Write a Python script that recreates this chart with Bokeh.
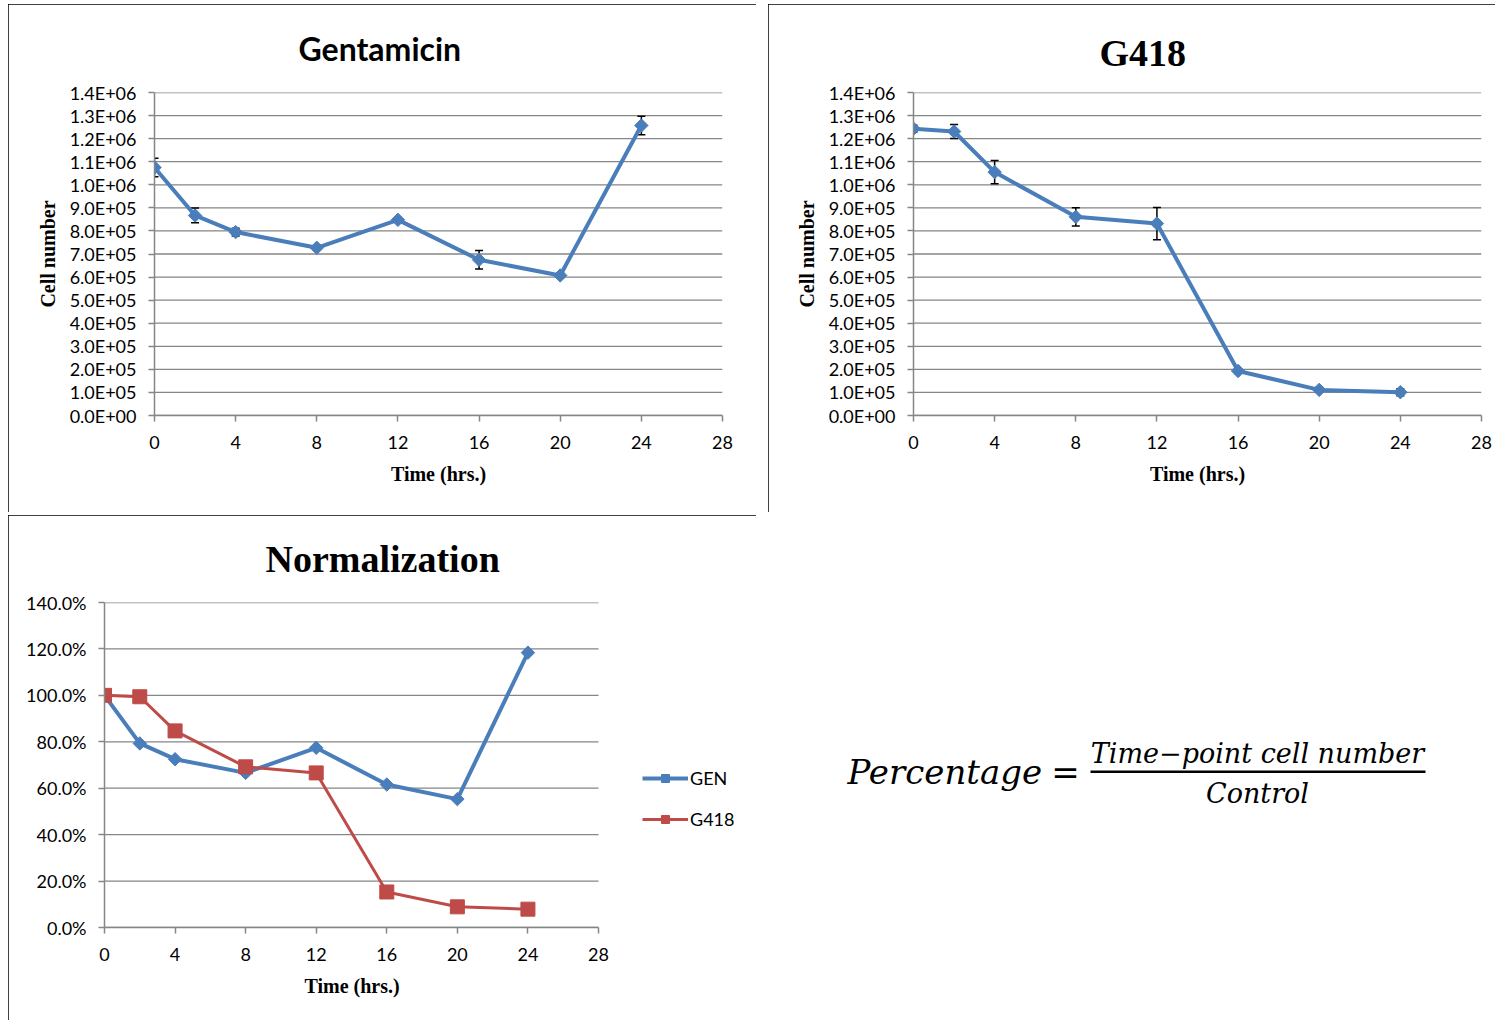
import numpy as np
from bokeh.plotting import figure
from bokeh.models import (Range1d, FixedTicker, ColumnDataSource, Whisker, TeeHead,
                          Legend, LegendItem, Title)
from bokeh.layouts import row, column
from bokeh.embed import file_html
from bokeh.resources import INLINE
from bokeh.core.properties import value

# ---------------- data ----------------
time_hrs = [0, 2, 4, 8, 12, 16, 20, 24]

gen_cells = [1.075e6, 0.867e6, 0.795e6, 0.727e6, 0.848e6, 0.675e6, 0.607e6, 1.257e6]
gen_err = [0.40e5, 0.32e5, 0.17e5, 0.10e5, 0.10e5, 0.40e5, 0.10e5, 0.40e5]

g418_cells = [1.243e6, 1.231e6, 1.055e6, 0.861e6, 0.832e6, 0.193e6, 0.111e6, 0.101e6]
g418_err = [0.15e5, 0.30e5, 0.50e5, 0.40e5, 0.70e5, 0.10e5, 0.10e5, 0.15e5]

gen_pct = [100.0, 79.3, 72.5, 66.6, 77.4, 61.6, 55.3, 118.4]
g418_pct = [100.0, 99.4, 84.7, 69.2, 66.6, 15.3, 8.9, 7.9]

x_ticks = [0, 4, 8, 12, 16, 20, 24, 28]
cell_ticks = [0, 100000, 200000, 300000, 400000, 500000, 600000, 700000,
              800000, 900000, 1000000, 1100000, 1200000, 1300000, 1400000]
cell_tick_labels = ["0.0E+00", "1.0E+05", "2.0E+05", "3.0E+05", "4.0E+05", "5.0E+05",
                    "6.0E+05", "7.0E+05", "8.0E+05", "9.0E+05", "1.0E+06", "1.1E+06",
                    "1.2E+06", "1.3E+06", "1.4E+06"]
pct_ticks = [0, 20, 40, 60, 80, 100, 120, 140]
pct_tick_labels = ["0.0%", "20.0%", "40.0%", "60.0%", "80.0%", "100.0%", "120.0%", "140.0%"]

# ---------------- style ----------------
BLUE = "#4a7ebb"
RED = "#be4b48"
GRID = "#868686"
SANS = "Lato"
SERIF = "Liberation Serif"
PANEL_STYLE = {"outline": "1.5px solid #000000", "outline-offset": "-1px"}
X_MAX = 28


def base_fig(w, h, left, right, top, bottom, x_end, y_end, y_ticks, y_labels, ylabel,
             ylab_stand, xlabel=True):
    p = figure(width=w, height=h, x_range=Range1d(0, x_end), y_range=Range1d(0, y_end),
               output_backend="svg", toolbar_location=None,
               min_border_left=left, min_border_right=right,
               min_border_top=top, min_border_bottom=bottom,
               background_fill_color="white", border_fill_color="white",
               styles=PANEL_STYLE)
    p.outline_line_color = None
    p.xgrid.grid_line_color = None
    p.ygrid.grid_line_color = None
    # horizontal grid lines spanning the 0..28 h axis only
    p.segment(x0=[0] * len(y_ticks), y0=y_ticks, x1=[X_MAX] * len(y_ticks), y1=y_ticks,
              line_color=GRID, line_width=1.3, level="underlay")
    p.xaxis.ticker = FixedTicker(ticks=x_ticks)
    p.xaxis.bounds = (0, X_MAX)
    p.yaxis.ticker = FixedTicker(ticks=y_ticks)
    p.yaxis.major_label_overrides = {t: l for t, l in zip(y_ticks, y_labels)}
    for ax in (p.xaxis[0], p.yaxis[0]):
        ax.axis_line_color = GRID
        ax.axis_line_width = 1.5
        ax.major_tick_line_color = GRID
        ax.major_tick_line_width = 1.5
        ax.major_tick_in = 0
        ax.major_tick_out = 6
        ax.minor_tick_line_color = None
        ax.major_label_text_font = SANS
        ax.major_label_text_font_size = "18px"
        ax.major_label_text_color = "black"
        ax.axis_label_text_font = SERIF
        ax.axis_label_text_font_style = "bold"
        ax.axis_label_text_font_size = "20px"
        ax.axis_label_text_color = "black"
    p.yaxis.major_label_standoff = 12
    p.xaxis.major_label_standoff = 14
    if xlabel:
        p.xaxis.axis_label = "Time (hrs.)"
        p.xaxis.axis_label_standoff = 11
    if ylabel:
        p.yaxis.axis_label = ylabel
        p.yaxis.axis_label_standoff = ylab_stand
    return p


def set_title(p, text, offset, standoff, font, size):
    t = p.title
    t.text = text
    t.align = "left"
    t.offset = offset
    t.standoff = standoff
    t.vertical_align = "top"
    t.text_font = font
    t.text_font_size = size
    t.text_font_style = "bold"
    t.text_color = "black"


def cell_chart(p, cells, err):
    src = ColumnDataSource(dict(x=time_hrs, y=cells,
                                up=[c + e for c, e in zip(cells, err)],
                                lo=[c - e for c, e in zip(cells, err)]))
    wk = Whisker(base="x", upper="up", lower="lo", source=src, line_color="black",
                 line_width=1.5, level="underlay",
                 upper_head=TeeHead(size=8, line_color="black", line_width=1.5),
                 lower_head=TeeHead(size=8, line_color="black", line_width=1.5))
    p.add_layout(wk)
    p.line("x", "y", source=src, line_color=BLUE, line_width=4)
    p.scatter("x", "y", source=src, marker="square", angle=np.pi / 4, size=9.5,
              fill_color=BLUE, line_color=BLUE)


# ---------------- Gentamicin ----------------
p1 = base_fig(748, 508, 146, 34, 88, 97, X_MAX, 1.4e6, cell_ticks, cell_tick_labels,
              "Cell number", 8)
cell_chart(p1, gen_cells, gen_err)
set_title(p1, "Gentamicin", 144, 45, SANS, "32px")

# ---------------- G418 ----------------
p2 = base_fig(727, 508, 145, 14, 86, 97, X_MAX, 1.4e6, cell_ticks, cell_tick_labels,
              "Cell number", 8)
cell_chart(p2, g418_cells, g418_err)
set_title(p2, "G418", 186, 34, SERIF, "38px")

# ---------------- Normalization ----------------
# frame extends right over the legend area; the h axis itself stops at 28
N_LEFT, N_RIGHT, N_AXIS_PX = 96, 8, 494
n_frame_w = 748 - N_LEFT - N_RIGHT
n_x_end = X_MAX * n_frame_w / N_AXIS_PX
p3 = base_fig(748, 505, N_LEFT, N_RIGHT, 87, 93, n_x_end, 140, pct_ticks, pct_tick_labels,
              None, 0, xlabel=False)
src_n = ColumnDataSource(dict(x=time_hrs, gen=gen_pct, g418=g418_pct))
gl = p3.line("x", "gen", source=src_n, line_color=BLUE, line_width=4)
gs = p3.scatter("x", "gen", source=src_n, marker="square", angle=np.pi / 4, size=9.5,
                fill_color=BLUE, line_color=BLUE)
rl = p3.line("x", "g418", source=src_n, line_color=RED, line_width=3)
rs = p3.scatter("x", "g418", source=src_n, marker="square", size=14,
                fill_color=RED, line_color=RED)
set_title(p3, "Normalization", 161, 41, SERIF, "38px")
# x-axis title centred under the 0..28 axis (not under the whole frame)
p3.add_layout(Title(text="Time (hrs.)", align="left", offset=200, standoff=22,
                    vertical_align="top", text_font=SERIF, text_font_size="20px",
                    text_font_style="bold", text_color="black"), "below")
legend = Legend(items=[LegendItem(label="GEN", renderers=[gl, gs]),
                       LegendItem(label="G418", renderers=[rl, rs])],
                location=(538, 97), glyph_width=46, glyph_height=20, spacing=19,
                padding=0, margin=0, border_line_color=None, background_fill_alpha=0,
                label_text_font=SANS, label_text_font_size="18px", label_standoff=2,
                label_text_color="black")
p3.add_layout(legend)

# ---------------- Equation ----------------
eq = figure(width=727, height=505, x_range=Range1d(0, 727), y_range=Range1d(505, 0),
            output_backend="svg", toolbar_location=None, x_axis_type=None, y_axis_type=None,
            min_border=0)
eq.outline_line_color = None
eq.grid.grid_line_color = None
EQF = value("DejaVu Serif")
eq.text(x=[79], y=[263], text=["Percentage"], text_font=EQF, text_font_style="italic",
        text_font_size="34px", text_align="left", text_baseline="middle", text_color="black")
eq.text(x=[297], y=[263], text=["="], text_font=EQF,
        text_font_size="34px", text_align="center", text_baseline="middle", text_color="black")
eq.text(x=[489], y=[259], text=["Time\u2212point cell number"], text_font=EQF,
        text_font_style="italic", text_font_size="27px", text_align="center",
        text_baseline="bottom", text_color="black")
eq.text(x=[489], y=[273], text=["Control"], text_font=EQF, text_font_style="italic",
        text_font_size="27px", text_align="center", text_baseline="top", text_color="black")
eq.segment(x0=[322], y0=[263], x1=[657], y1=[263], line_color="black", line_width=2.5)

layout = column(row(p1, p2, spacing=12), row(p3, eq, spacing=12), spacing=3,
                margin=(4, 0, 0, 8))
open("out.html", "w").write(file_html(layout, INLINE))
